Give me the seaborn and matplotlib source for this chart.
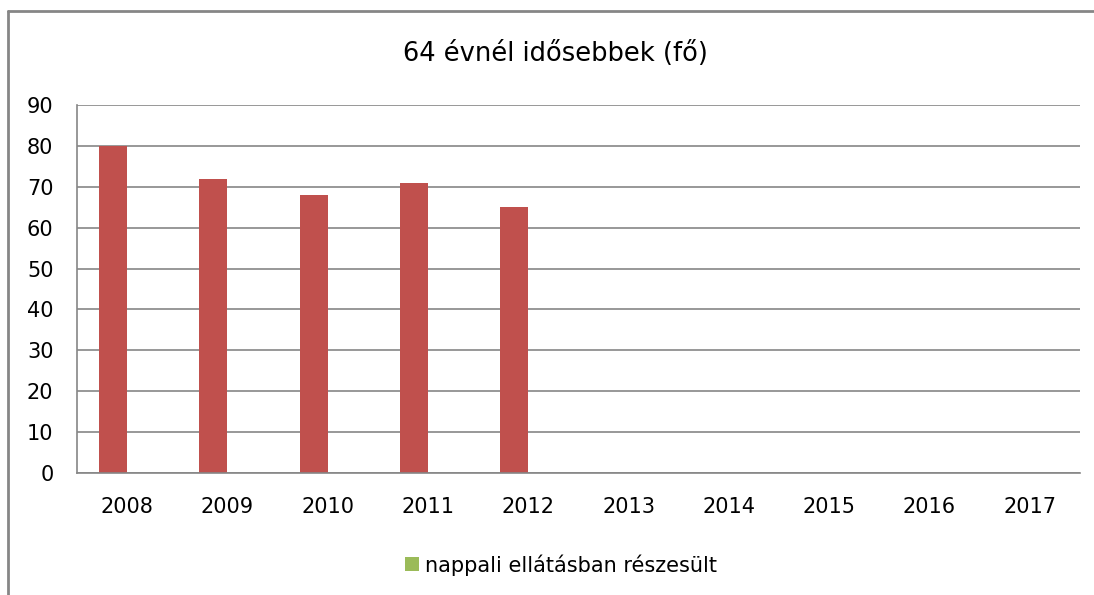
import matplotlib
matplotlib.use("Agg")
import matplotlib.pyplot as plt
import seaborn as sns
import pandas as pd
import numpy as np
from matplotlib.patches import Patch
from matplotlib.lines import Line2D

years = ["2008", "2009", "2010", "2011", "2012", "2013", "2014", "2015", "2016", "2017"]
series_a_name = "64 évnél idősebbek"
series_a = [80, 72, 68, 71, 65, np.nan, np.nan, np.nan, np.nan, np.nan]
series_b_name = "nappali ellátásban részesült"
series_b = [np.nan] * 10
title = "64 évnél idősebbek (fő)"

df = pd.DataFrame({
    "year": years * 2,
    "value": series_a + series_b,
    "series": [series_a_name] * 10 + [series_b_name] * 10,
})

sns.set_theme(style="white")
plt.rcParams["font.family"] = ["DejaVu Sans"]
plt.rcParams["text.color"] = "#000000"

fig = plt.figure(figsize=(10.94, 5.95), dpi=100)
ax = fig.add_axes([77 / 1094, 1 - 473 / 595, (1080 - 77) / 1094, (473 - 105) / 595])

grey = "#868686"
red = "#C0504D"
green = "#9BBB59"

sns.barplot(data=df, x="year", y="value", hue="series", order=years,
            hue_order=[series_a_name, series_b_name],
            palette=[red, green], width=0.56, saturation=1, ax=ax,
            legend=False, errorbar=None, linewidth=0)

ax.set_ylim(0, 90)
ax.set_xlim(-0.5, 9.5)
ax.set_yticks(range(0, 91, 10))
ax.yaxis.grid(True, color=grey, linewidth=1.2)
ax.set_axisbelow(True)
ax.set_xlabel("")
ax.set_ylabel("")
for s in ["top", "right"]:
    ax.spines[s].set_visible(False)
for s in ["left", "bottom"]:
    ax.spines[s].set_color(grey)
    ax.spines[s].set_linewidth(1.2)
ax.tick_params(axis="both", length=0, labelsize=15, colors="#000000")
ax.tick_params(axis="y", pad=17)
ax.tick_params(axis="x", pad=17)

fig.text(555 / 1094, 1 - 54 / 595, title, ha="center", va="center", fontsize=18.5,
         color="#000000")

handles = [Patch(facecolor=green, edgecolor="none", label=series_b_name)]
fig.legend(handles=handles, loc="center", bbox_to_anchor=(561 / 1094, 1 - 565 / 595),
           frameon=False, fontsize=15, handlelength=0.65, handleheight=0.65,
           handletextpad=0.3, labelcolor="#000000")

# chart-area border (left and top edges visible)
fig.add_artist(Line2D([8 / 1094, 8 / 1094], [0, 1 - 11 / 595], transform=fig.transFigure,
                      color=grey, linewidth=2))
fig.add_artist(Line2D([8 / 1094, 1], [1 - 11 / 595, 1 - 11 / 595], transform=fig.transFigure,
                      color=grey, linewidth=2))

fig.savefig("out.png", dpi=100, facecolor="white")
